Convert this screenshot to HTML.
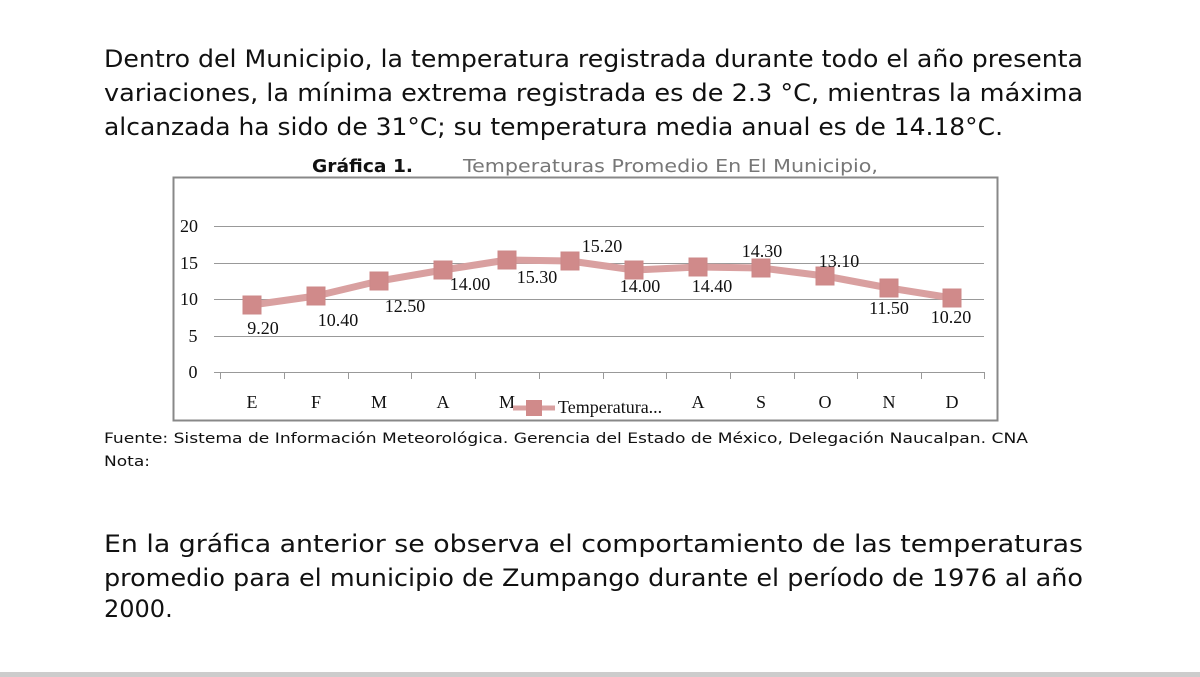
<!DOCTYPE html>
<html><head><meta charset="utf-8"><style>
html,body{margin:0;padding:0;background:#fff;}
svg{display:block;}
</style></head><body>
<svg width="1200" height="677" xmlns="http://www.w3.org/2000/svg">
<rect width="1200" height="677" fill="#fff"/>
<g font-family="'DejaVu Sans','Liberation Sans',sans-serif" font-size="24" fill="#111">
<text x="104" y="67" textLength="979" lengthAdjust="spacingAndGlyphs">Dentro del Municipio, la temperatura registrada durante todo el año presenta</text>
<text x="104" y="101" textLength="979" lengthAdjust="spacingAndGlyphs">variaciones, la mínima extrema registrada es de 2.3 °C, mientras la máxima</text>
<text x="104" y="135" textLength="899" lengthAdjust="spacingAndGlyphs">alcanzada ha sido de 31°C; su temperatura media anual es de 14.18°C.</text>
<text x="104" y="552" textLength="979" lengthAdjust="spacingAndGlyphs">En la gráfica anterior se observa el comportamiento de las temperaturas</text>
<text x="104" y="586" textLength="979" lengthAdjust="spacingAndGlyphs">promedio para el municipio de Zumpango durante el período de 1976 al año</text>
<text x="104" y="617">2000.</text>
</g>
<g font-family="'DejaVu Sans','Liberation Sans',sans-serif" font-size="14" fill="#111">
<text x="104" y="443" textLength="924" lengthAdjust="spacingAndGlyphs">Fuente: Sistema de Información Meteorológica. Gerencia del Estado de México, Delegación Naucalpan. CNA</text>
<text x="104" y="466" textLength="46" lengthAdjust="spacingAndGlyphs">Nota:</text>
</g>
<text x="312" y="172" font-family="'DejaVu Sans',sans-serif" font-weight="bold" font-size="18" textLength="101" lengthAdjust="spacingAndGlyphs" fill="#111">Gráfica 1.</text>
<text x="463" y="172" font-family="'DejaVu Sans',sans-serif" font-size="18" textLength="415" lengthAdjust="spacingAndGlyphs" fill="#777">Temperaturas Promedio En El Municipio,</text>
<rect x="173.5" y="177.5" width="824" height="243" fill="#fff" stroke="#888" stroke-width="2"/>
<g stroke="#999" stroke-width="1">
<line x1="214" y1="226.5" x2="984" y2="226.5"/>
<line x1="214" y1="263.5" x2="984" y2="263.5"/>
<line x1="214" y1="299.5" x2="984" y2="299.5"/>
<line x1="214" y1="336.5" x2="984" y2="336.5"/>
<line x1="214" y1="372.5" x2="984" y2="372.5"/>
</g>
<g stroke="#999" stroke-width="1">
<line x1="220.5" y1="372" x2="220.5" y2="379"/><line x1="284.5" y1="372" x2="284.5" y2="379"/><line x1="348.5" y1="372" x2="348.5" y2="379"/><line x1="411.5" y1="372" x2="411.5" y2="379"/><line x1="475.5" y1="372" x2="475.5" y2="379"/><line x1="539.5" y1="372" x2="539.5" y2="379"/><line x1="603.5" y1="372" x2="603.5" y2="379"/><line x1="666.5" y1="372" x2="666.5" y2="379"/><line x1="730.5" y1="372" x2="730.5" y2="379"/><line x1="794.5" y1="372" x2="794.5" y2="379"/><line x1="857.5" y1="372" x2="857.5" y2="379"/><line x1="921.5" y1="372" x2="921.5" y2="379"/><line x1="984.5" y1="372" x2="984.5" y2="379"/>
</g>
<g font-family="'Liberation Serif',serif" font-size="18" fill="#111" text-anchor="middle">
<text x="189" y="232">20</text><text x="189" y="269">15</text><text x="189" y="305">10</text><text x="193" y="342">5</text><text x="193" y="378">0</text>
<text x="252" y="408">E</text><text x="316" y="408">F</text><text x="379" y="408">M</text><text x="443" y="408">A</text><text x="507" y="408">M</text><text x="698" y="408">A</text><text x="761" y="408">S</text><text x="825" y="408">O</text><text x="889" y="408">N</text><text x="952" y="408">D</text>
</g>
<polyline fill="none" stroke="#d9a0a0" stroke-width="7" stroke-linejoin="round" points="252,305 316,296 379,281 443,270 507,260 570,261 634,270 698,267 761,268 825,276 889,288 952,298"/>
<g fill="#d08a8a" stroke="#c88" stroke-width="1">
<rect x="243" y="296" width="18" height="18"/><rect x="307" y="287" width="18" height="18"/><rect x="370" y="272" width="18" height="18"/><rect x="434" y="261" width="18" height="18"/><rect x="498" y="251" width="18" height="18"/><rect x="561" y="252" width="18" height="18"/><rect x="625" y="261" width="18" height="18"/><rect x="689" y="258" width="18" height="18"/><rect x="752" y="259" width="18" height="18"/><rect x="816" y="267" width="18" height="18"/><rect x="880" y="279" width="18" height="18"/><rect x="943" y="289" width="18" height="18"/>
</g>
<g font-family="'Liberation Serif',serif" font-size="18" fill="#111" text-anchor="middle">
<text x="263" y="334">9.20</text><text x="338" y="326">10.40</text><text x="405" y="312">12.50</text><text x="470" y="290">14.00</text><text x="537" y="283">15.30</text><text x="602" y="252">15.20</text><text x="640" y="292">14.00</text><text x="712" y="292">14.40</text><text x="762" y="257">14.30</text><text x="839" y="267">13.10</text><text x="889" y="314">11.50</text><text x="951" y="323">10.20</text>
</g>
<line x1="513" y1="408" x2="555" y2="408" stroke="#d9a0a0" stroke-width="5"/>
<rect x="526" y="400" width="16" height="16" fill="#d08a8a"/>
<text x="558" y="413" font-family="'Liberation Serif',serif" font-size="18" fill="#111">Temperatura...</text>
<rect x="0" y="672" width="1200" height="5" fill="#ccc"/>
</svg>
</body></html>
